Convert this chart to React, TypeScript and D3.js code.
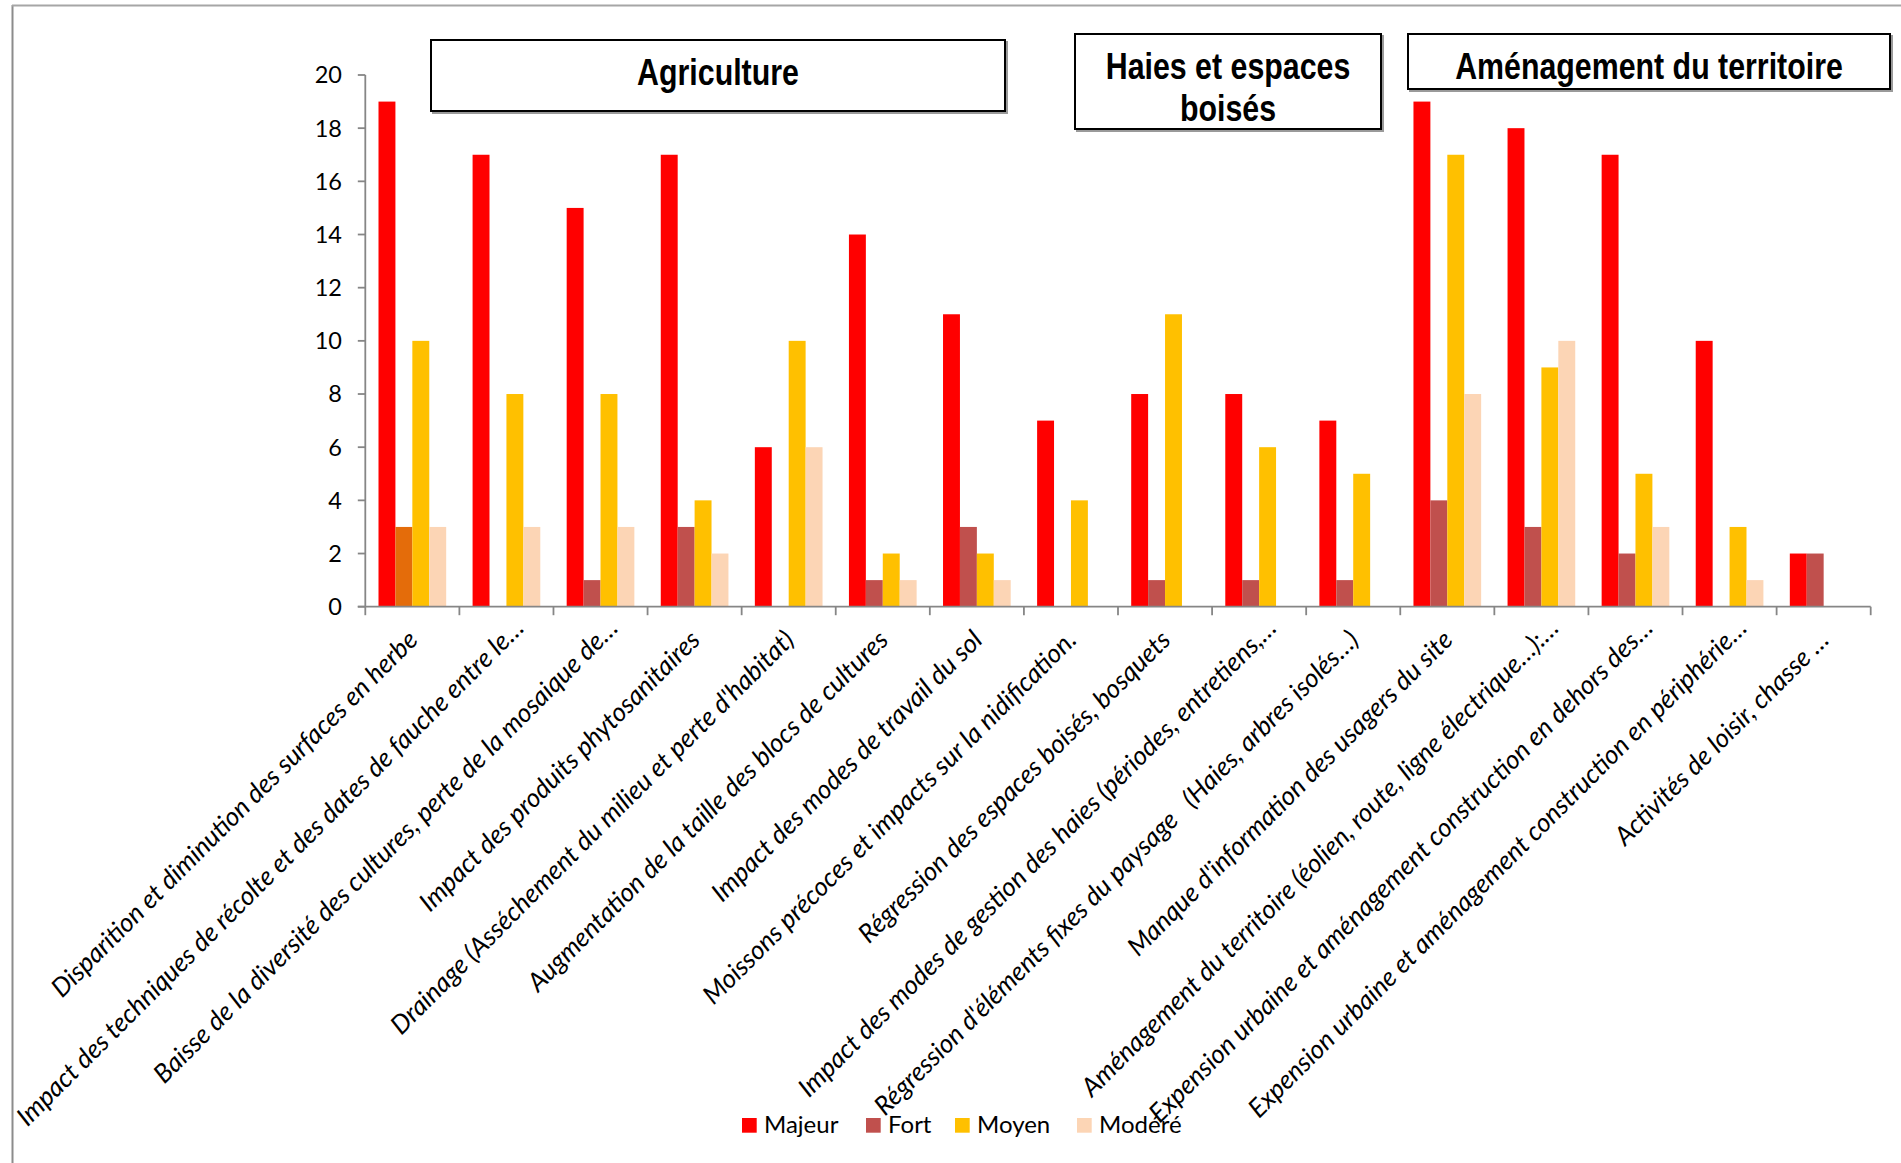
import React from "react";
import * as d3 from "d3";

const categories = [
  "Disparition et diminution des surfaces en herbe",
  "Impact des techniques de récolte et des dates de fauche entre le…",
  "Baisse de la diversité des cultures, perte de la mosaique de…",
  "Impact des produits phytosanitaires",
  "Drainage (Asséchement du milieu et perte d'habitat)",
  "Augmentation de la taille des blocs de cultures",
  "Impact des modes de travail du sol",
  "Moissons précoces et impacts sur la nidification.",
  "Régression des espaces boisés, bosquets",
  "Impact des modes de gestion des haies (périodes, entretiens,…",
  "Régression d'éléments fixes du paysage   (Haies, arbres isolés…)",
  "Manque d'information des usagers du site",
  "Aménagement du territoire (éolien, route, ligne électrique…):…",
  "Expension urbaine et aménagement construction en dehors des…",
  "Expension urbaine et aménagement construction en périphérie…",
  "Activités de loisir, chasse …",
];

const seriesNames = ["Majeur", "Fort", "Moyen", "Modéré"];
const majeur = [19, 17, 15, 17, 6, 14, 11, 7, 8, 8, 7, 19, 18, 17, 10, 2];
const fort = [3, 0, 1, 3, 0, 1, 3, 0, 1, 1, 1, 4, 3, 2, 0, 2];
const moyen = [10, 8, 8, 4, 10, 2, 2, 4, 11, 6, 5, 17, 9, 5, 3, 0];
const modere = [3, 3, 3, 2, 6, 1, 1, 0, 0, 0, 0, 8, 10, 3, 1, 0];
const seriesValues = [majeur, fort, moyen, modere];
const seriesColors = ["#FF0000", "#C0504D", "#FFC000", "#FCD5B5"];
// the single "Fort" bar of the first category is drawn in orange
const highlightCategory = 0;
const highlightSeries = 1;
const highlightColor = "#E46C0A";

const yTicks = [0, 2, 4, 6, 8, 10, 12, 14, 16, 18, 20];

const groupTitles = [
  { lines: ["Agriculture"], x0: 431, x1: 1005, y0: 40, y1: 111 },
  { lines: ["Haies et espaces", "boisés"], x0: 1075, x1: 1381, y0: 34, y1: 129 },
  { lines: ["Aménagement du territoire"], x0: 1408, x1: 1890, y0: 34, y1: 89 },
];

const W = 1901;
const H = 1163;
const left = 365.3;
const right = 1870.7;
const top = 75;
const bottom = 606.7;

const axisColor = "#868686";
const labelFont = "Lato, 'Open Sans', sans-serif";
const titleFont = "'Liberation Sans', Arial, sans-serif";

export default function App() {
  const x0 = d3.scaleBand<string>().domain(categories).range([left, right]).padding(0);
  const x1 = d3
    .scaleBand<string>()
    .domain(seriesNames)
    .range([0, x0.bandwidth()])
    .paddingInner(0)
    .paddingOuter(0.78);
  const y = d3.scaleLinear().domain([0, 20]).range([bottom, top]);

  const bars: React.ReactNode[] = [];
  categories.forEach((cat, ci) => {
    seriesNames.forEach((s, si) => {
      const v = seriesValues[si][ci];
      if (!v) return;
      const color = ci === highlightCategory && si === highlightSeries ? highlightColor : seriesColors[si];
      bars.push(
        <rect
          key={`${ci}-${si}`}
          x={(x0(cat) as number) + (x1(s) as number)}
          y={y(v)}
          width={x1.bandwidth()}
          height={y(0) - y(v)}
          fill={color}
        />
      );
    });
  });

  const boundaries = d3.range(categories.length + 1).map((i) => left + i * x0.step());

  const legendX = [742, 866, 955, 1077];

  return (
    <svg
      width={W}
      height={H}
      style={{ position: "absolute", left: 0, top: 0, background: "#fff" }}
      xmlns="http://www.w3.org/2000/svg"
    >
      <rect x={0} y={0} width={W} height={H} fill="#fff" />
      {/* outer frame */}
      <line x1={12.5} y1={5} x2={12.5} y2={H} stroke="#8c8c8c" strokeWidth={2} />
      <line x1={12} y1={5.5} x2={W} y2={5.5} stroke="#a6a6a6" strokeWidth={2} />

      {/* group title boxes */}
      {groupTitles.map((g, i) => (
        <g key={i}>
          <rect x={g.x0 + 2} y={g.y0 + 2} width={g.x1 - g.x0} height={g.y1 - g.y0} fill="none" stroke="#9a9a9a" strokeWidth={2} />
          <rect x={g.x0} y={g.y0} width={g.x1 - g.x0} height={g.y1 - g.y0} fill="#fff" stroke="#000" strokeWidth={2} />
          {g.lines.map((ln, li) => (
            <text
              key={li}
              transform={`translate(${(g.x0 + g.x1) / 2},${g.y0 + 45 + li * 41.5}) scale(0.82,1)`}
              textAnchor="middle"
              fontFamily={titleFont}
              fontWeight="bold"
              fontSize={37}
              fill="#000"
            >
              {ln}
            </text>
          ))}
        </g>
      ))}

      {/* bars */}
      {bars}

      {/* y axis */}
      <line x1={left} y1={top} x2={left} y2={bottom} stroke={axisColor} strokeWidth={1.8} />
      {yTicks.map((t) => (
        <g key={t}>
          <line x1={left - 7.5} x2={left} y1={y(t)} y2={y(t)} stroke={axisColor} strokeWidth={1.8} />
          <text x={342} y={y(t)} dy="0.36em" textAnchor="end" fontFamily={labelFont} fontSize={23.5} fill="#000">
            {t}
          </text>
        </g>
      ))}

      {/* x axis */}
      <line x1={left - 7.5} y1={bottom} x2={right} y2={bottom} stroke={axisColor} strokeWidth={1.8} />
      {boundaries.map((bx, i) => (
        <line key={i} x1={bx} x2={bx} y1={bottom} y2={bottom + 8.5} stroke={axisColor} strokeWidth={1.8} />
      ))}

      {/* category labels */}
      {categories.map((cat, ci) => {
        const cx = (x0(cat) as number) + x0.bandwidth() / 2;
        const truncated = /[^ ]…$/.test(cat);
        return (
          <text
            key={ci}
            transform={`translate(${cx + 19},${629.5}) rotate(-45)`}
            x={truncated ? 0 : -17}
            textAnchor="end"
            fontFamily={labelFont}
            fontStyle="italic"
            fontSize={26}
            fill="#000"
            style={{ whiteSpace: "pre" }}
          >
            {cat}
          </text>
        );
      })}

      {/* legend */}
      {seriesNames.map((s, si) => (
        <g key={s}>
          <rect x={legendX[si]} y={1118} width={14.7} height={14.7} fill={seriesColors[si]} />
          <text x={legendX[si] + 22} y={1133} fontFamily={labelFont} fontSize={24} fill="#000">
            {s}
          </text>
        </g>
      ))}
    </svg>
  );
}
